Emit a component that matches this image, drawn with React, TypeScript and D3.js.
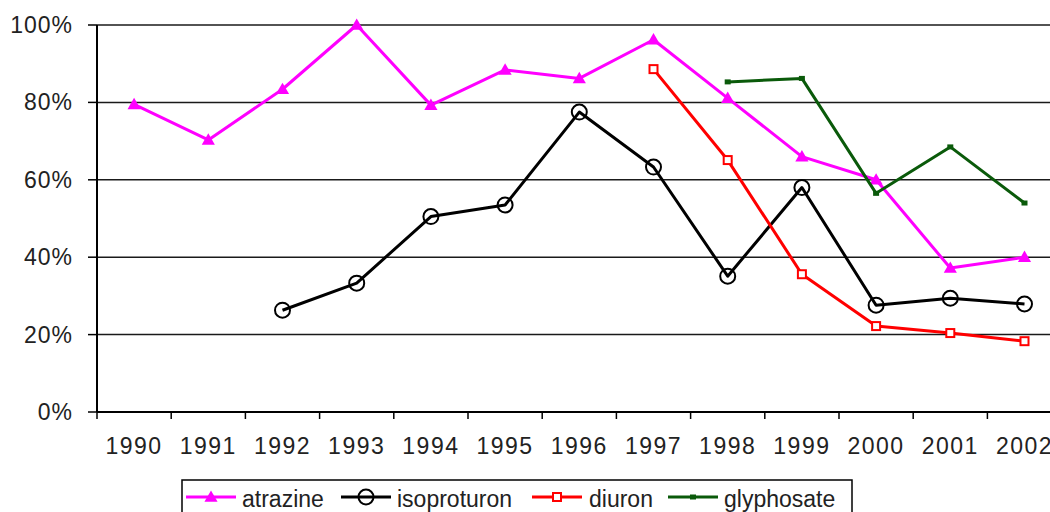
import React from 'react';
import * as d3 from 'd3';

const years = ['1990', '1991', '1992', '1993', '1994', '1995', '1996', '1997', '1998', '1999', '2000', '2001', '2002'];
const yTicks = [0, 20, 40, 60, 80, 100];

const atrazine = [79.5, 70.3, 83.4, 100, 79.3, 88.4, 86.2, 96.2, 81.1, 66, 60, 37.2, 40];
const isoproturon = [null, null, 26.3, 33.3, 50.5, 53.5, 77.5, 63.3, 35.1, 58, 27.6, 29.4, 27.9];
const diuron = [null, null, null, null, null, null, null, 88.6, 65.1, 35.6, 22.2, 20.4, 18.3];
const glyphosate = [null, null, null, null, null, null, null, null, 85.3, 86.2, 56.5, 68.5, 54];

type Val = number | null;

const series = [
  { name: 'atrazine', values: atrazine as Val[], color: '#ff00ff', marker: 'triangle' },
  { name: 'isoproturon', values: isoproturon as Val[], color: '#000000', marker: 'circle' },
  { name: 'diuron', values: diuron as Val[], color: '#ff0000', marker: 'square' },
  { name: 'glyphosate', values: glyphosate as Val[], color: '#0a5a0a', marker: 'dash' },
];

const W = 1050;
const H = 512;
const margin = { left: 97, top: 25, bottom: 100 };
const bandW = 74.2;
const FONT = '"Liberation Sans", Arial, sans-serif';

function Marker({ kind, x, y, color }: { kind: string; x: number; y: number; color: string }) {
  if (kind === 'triangle') {
    const p = d3.symbol(d3.symbolTriangle, 75)();
    return <path d={p || ''} transform={`translate(${x},${y + 1})`} fill={color} />;
  }
  if (kind === 'circle') {
    return <circle cx={x} cy={y} r={7.5} fill="none" stroke={color} strokeWidth={2} />;
  }
  if (kind === 'square') {
    return <rect x={x - 4} y={y - 4} width={8} height={8} fill="#fff" stroke={color} strokeWidth={2} />;
  }
  return <rect x={x - 3} y={y - 2.5} width={6} height={5} fill={color} />;
}

export default function App() {
  const x = d3.scaleBand<string>().domain(years).range([margin.left, margin.left + bandW * years.length]);
  const y = d3.scaleLinear().domain([0, 100]).range([H - margin.bottom, margin.top]);
  const cx = (yr: string) => (x(yr) as number) + x.bandwidth() / 2;
  const x0 = margin.left;
  const x1 = margin.left + bandW * years.length;

  const line = d3
    .line<Val>()
    .defined((d) => d !== null)
    .x((_, i) => cx(years[i]))
    .y((d) => y(d as number));

  const legendItems = [
    { lx: 186, tx: 242 },
    { lx: 341, tx: 397 },
    { lx: 532, tx: 589 },
    { lx: 668, tx: 724 },
  ];

  return (
    <svg width={W} height={H} style={{ position: 'fixed', left: 0, top: 0, background: '#fff' }} fontFamily={FONT}>
      <rect x={0} y={0} width={W} height={H} fill="#fff" />
      {/* gridlines */}
      {yTicks.filter((t) => t > 0).map((t) => (
        <line key={t} x1={x0} x2={x1} y1={y(t)} y2={y(t)} stroke="#1a1a1a" strokeWidth={1.5} />
      ))}
      {/* y axis */}
      <line x1={x0} x2={x0} y1={y(100)} y2={y(0)} stroke="#000" strokeWidth={2} />
      {yTicks.map((t) => (
        <g key={t}>
          <line x1={x0 - 9} x2={x0} y1={y(t)} y2={y(t)} stroke="#000" strokeWidth={1.5} />
          <text x={73} y={y(t) + 8} textAnchor="end" fontSize={23} fill="#222" letterSpacing={1}>
            {t}%
          </text>
        </g>
      ))}
      {/* x axis */}
      <line x1={x0} x2={x1} y1={y(0)} y2={y(0)} stroke="#000" strokeWidth={2} />
      {years.map((yr, i) => (
        <g key={yr}>
          <line x1={x0 + i * bandW} x2={x0 + i * bandW} y1={y(0)} y2={y(0) + 7} stroke="#000" strokeWidth={1.5} />
          <text x={cx(yr)} y={454} textAnchor="middle" fontSize={23} fill="#222" letterSpacing={1.5}>
            {yr}
          </text>
        </g>
      ))}
      {/* series */}
      {series.map((s) => (
        <g key={s.name}>
          <path d={line(s.values) || ''} fill="none" stroke={s.color} strokeWidth={3} strokeLinejoin="round" />
          {s.values.map((v, i) =>
            v === null ? null : <Marker key={i} kind={s.marker} x={cx(years[i])} y={y(v)} color={s.color} />
          )}
        </g>
      ))}
      {/* legend */}
      <rect x={182} y={480} width={670} height={50} fill="#fff" stroke="#000" strokeWidth={1.5} />
      {series.map((s, i) => (
        <g key={s.name}>
          <line x1={legendItems[i].lx} x2={legendItems[i].lx + 50} y1={497} y2={497} stroke={s.color} strokeWidth={3} />
          <Marker kind={s.marker} x={legendItems[i].lx + 25} y={497} color={s.color} />
          <text x={legendItems[i].tx} y={507} fontSize={23} fill="#222">
            {s.name}
          </text>
        </g>
      ))}
    </svg>
  );
}
